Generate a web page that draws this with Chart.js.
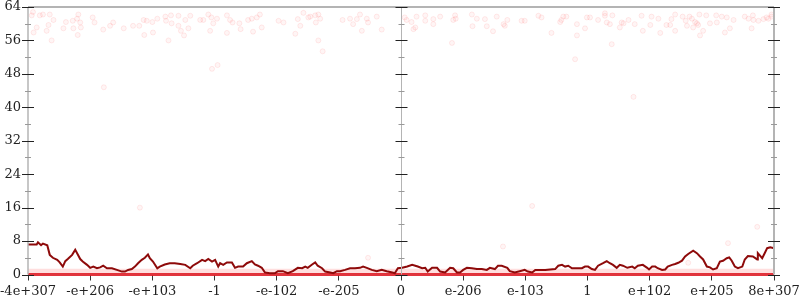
<!DOCTYPE html>
<html>
<head>
<meta charset="utf-8">
<script src="https://cdn.jsdelivr.net/npm/chart.js@4"></script>
<style>
  html, body { margin: 0; padding: 0; background: #fff; }
  #wrap { width: 800px; height: 300px; }
</style>
</head>
<body>
<div id="wrap"><canvas id="c" width="800" height="300"></canvas></div>
<script>
// ---- data ----
const xTickLabels = ['-4e+307','-e+206','-e+103','-1','-e-102','-e-205','0','e-206','e-103','1','e+102','e+205','8e+307'];
const yMin = 0, yMax = 64, yStep = 8, yMinorStep = 4;

// running line: position along axis (0..12 tick units) and value
const lineX = [0,0.14,0.16,0.21,0.24,0.31,0.35,0.40,0.47,0.51,0.56,0.60,0.64,0.71,0.76,0.79,0.84,0.88,0.95,1.00,
  1.05,1.11,1.16,1.21,1.27,1.35,1.43,1.51,1.56,1.61,1.67,1.72,1.77,1.83,1.88,1.93,1.96,2.01,2.08,2.12,
  2.20,2.28,2.36,2.45,2.53,2.61,2.65,2.72,2.80,2.85,2.90,2.96,3.01,3.06,3.09,3.14,3.20,3.28,3.33,3.38,
  3.46,3.52,3.60,3.65,3.70,3.76,3.81,3.89,3.97,4.02,4.10,4.18,4.26,4.34,4.41,4.46,4.50,4.57,4.62,4.66,
  4.73,4.78,4.86,4.91,4.97,5.02,5.10,5.18,5.26,5.34,5.39,5.45,5.53,5.61,5.69,5.77,5.86,5.90,5.95,6.02,
  6.10,6.18,6.23,6.27,6.34,6.39,6.43,6.50,6.58,6.63,6.71,6.79,6.84,6.90,6.95,7.00,7.06,7.14,7.22,7.30,
  7.38,7.43,7.51,7.56,7.62,7.71,7.75,7.83,7.91,7.99,8.04,8.11,8.16,8.32,8.48,8.53,8.59,8.64,8.69,8.75,
  8.91,8.96,9.01,9.07,9.12,9.17,9.25,9.31,9.36,9.41,9.47,9.52,9.57,9.64,9.72,9.76,9.81,9.89,9.96,9.99,
  10.04,10.09,10.13,10.20,10.25,10.29,10.36,10.41,10.46,10.52,10.57,10.62,10.70,10.76,10.81,10.86,10.92,10.97,11.02,11.08,
  11.13,11.18,11.24,11.28,11.32,11.37,11.42,11.49,11.53,11.58,11.66,11.73,11.74,11.81,11.85,11.89,11.94,12.00];
const lineY = [7.2,7.2,7.7,7.0,7.4,7.0,4.7,4.0,3.5,2.9,1.9,3.2,3.7,4.7,5.9,5.1,3.7,3.1,2.3,1.6,
  1.9,1.5,1.7,2.1,1.5,1.5,1.1,0.7,0.7,1.1,1.3,1.9,2.7,3.5,4.0,4.8,3.9,3.1,1.5,1.9,
  2.4,2.7,2.7,2.5,2.3,1.5,2.1,2.7,3.5,3.2,3.7,3.1,3.5,1.9,2.7,2.3,2.9,2.9,1.6,1.9,
  1.9,2.7,3.2,2.4,2.1,1.6,0.5,0.3,0.3,0.8,0.8,0.3,0.8,1.6,1.5,1.9,1.6,2.4,2.9,2.1,
  1.5,0.7,0.5,0.3,0.8,0.8,1.1,1.5,1.5,1.6,1.9,1.6,1.1,0.8,1.1,0.8,0.5,0.3,1.5,1.6,
  1.9,2.3,2.1,1.9,1.5,1.6,0.7,1.6,1.6,0.7,0.5,1.6,1.5,0.5,0.5,1.1,1.6,1.5,1.3,1.3,
  1.1,1.6,1.3,2.1,2.1,1.6,0.8,0.5,0.8,1.1,0.7,0.5,1.1,1.1,1.3,2.1,2.3,1.9,2.1,1.5,
  1.5,1.9,1.9,1.3,1.1,2.1,2.7,3.2,2.7,2.3,1.6,2.3,2.1,1.6,1.9,1.5,2.1,2.3,1.6,1.2,
  1.9,1.9,1.5,1.1,1.2,1.9,2.3,2.5,2.8,3.3,4.3,4.9,5.7,5.1,4.3,3.6,1.9,1.7,1.2,1.5,
  3.1,3.3,3.9,4.1,3.3,1.9,1.5,1.9,3.6,4.4,4.3,3.6,5.1,3.9,5.1,6.3,6.5,6.3];

// faint sample cloud
const cloudX = [0.06,0.08,0.19,0.24,0.35,0.09,0.14,0.30,0.33,0.38,0.41,0.57,0.61,0.72,0.73,0.79,0.81,0.84,0.85,0.80,
  1.04,1.07,1.21,1.22,1.32,1.37,1.54,1.69,1.79,1.86,1.87,1.91,2.00,2.01,2.08,2.21,2.22,2.26,2.30,2.31,
  2.42,2.42,2.46,2.51,2.53,2.58,2.61,2.77,2.82,2.90,2.93,2.95,2.98,2.96,3.05,3.04,3.20,3.20,3.25,3.29,
  3.40,3.42,3.54,3.60,3.62,3.68,3.73,3.76,4.03,4.11,4.30,4.34,4.38,4.43,4.51,4.54,4.62,4.63,4.67,4.67,
  4.70,4.74,5.06,5.18,5.23,5.29,5.34,5.37,5.45,5.47,5.61,5.69,
  6.06,6.09,6.17,6.23,6.20,6.25,6.39,6.39,6.52,6.52,6.63,6.82,6.84,6.87,6.88,7.14,7.15,7.22,7.35,7.38,
  7.48,7.54,7.65,7.67,7.71,7.94,7.99,8.21,8.26,8.42,8.56,8.58,8.61,8.66,8.80,8.83,8.83,8.96,8.99,9.04,
  9.17,9.28,9.31,9.36,9.28,9.39,9.40,9.52,9.55,9.58,9.66,9.74,9.76,9.87,9.89,10.01,10.03,10.14,10.17,10.27,
  10.33,10.35,10.41,10.41,10.53,10.58,10.60,10.64,10.68,10.70,10.73,10.76,10.78,10.80,10.81,10.86,10.91,10.97,11.07,11.08,
  11.16,11.21,11.24,11.29,11.35,11.53,11.59,11.64,11.66,11.67,11.75,11.83,11.88,11.91,11.96,11.96,
  1.80,8.11,7.64,11.73,11.26,5.47,10.62];
const cloudY = [62.0,62.8,62.0,62.2,62.2,57.9,59.1,58.3,59.7,56.0,60.9,58.9,60.4,60.7,58.9,61.2,62.2,60.3,59.1,57.3,
  61.5,60.3,58.6,44.8,59.5,60.3,58.9,59.5,59.5,60.9,57.3,60.7,60.4,57.9,61.2,61.7,60.7,56.0,62.0,60.1,
  61.9,59.5,58.3,57.2,60.9,58.9,61.9,60.9,60.9,62.2,58.3,61.5,60.1,49.2,50.1,61.2,62.0,57.8,60.9,60.3,
  60.1,58.7,60.9,61.2,58.1,61.5,62.2,59.1,60.7,60.3,57.6,61.1,59.5,62.6,61.5,61.7,62.0,60.3,62.2,56.0,
  61.2,53.4,60.9,61.2,59.9,61.1,62.2,58.3,61.2,60.3,61.7,58.6,
  61.5,60.9,60.4,59.1,58.7,61.7,62.0,60.7,61.1,59.9,61.7,55.4,60.9,62.0,61.2,62.2,59.4,61.2,61.1,59.4,
  58.2,61.7,59.9,59.5,60.9,60.7,60.7,61.9,61.5,57.8,60.4,60.9,61.7,61.7,51.5,59.9,57.2,58.9,61.5,61.5,
  60.9,62.5,60.3,59.9,61.9,55.1,62.0,59.1,60.3,60.1,60.9,42.5,59.9,61.9,58.3,59.7,61.7,61.2,57.8,59.7,
  59.7,61.1,58.3,62.2,61.7,60.7,59.5,61.7,61.2,59.1,60.4,60.1,59.7,62.2,57.2,58.3,62.0,60.1,62.0,60.3,
  61.7,57.9,61.5,58.9,60.9,61.7,61.2,58.9,62.0,60.9,60.7,61.1,61.5,61.2,62.2,61.7,
  16.0,16.4,6.7,11.4,7.5,4.0,2.8];

// dense mass of samples sitting at / just above zero
const zeroBandTop = 1.4;
const zeroValue = 0;
const axisStart = 0, axisEnd = 12, axisMiddle = 6;

// ---- chart ----
const linePts = lineX.map((x, i) => ({ x, y: lineY[i] }));
const cloudPts = cloudX.map((x, i) => ({ x, y: cloudY[i] }));

const axesPlugin = {
  id: 'axesPlugin',
  afterDatasetsDraw(chart) {
    const { ctx, chartArea: a, scales } = chart;
    const xs = scales.x, ys = scales.y;
    ctx.save();
    ctx.strokeStyle = '#b4b4b4';
    ctx.lineWidth = 2;
    ctx.beginPath(); ctx.moveTo(a.left, a.top); ctx.lineTo(a.right, a.top); ctx.stroke();
    ctx.beginPath(); ctx.moveTo(a.right, a.top); ctx.lineTo(a.right, a.bottom); ctx.stroke();
    ctx.lineWidth = 1.5;
    ctx.beginPath(); ctx.moveTo(a.left, a.top); ctx.lineTo(a.left, a.bottom); ctx.stroke();
    const mx = Math.round(xs.getPixelForValue(axisMiddle)) + 0.5;
    ctx.lineWidth = 1;
    ctx.beginPath(); ctx.moveTo(mx, a.top); ctx.lineTo(mx, a.bottom); ctx.stroke();
    const axesX = [a.left, mx, a.right];
    for (let v = yMin; v <= yMax; v += yMinorStep) {
      const y = Math.round(ys.getPixelForValue(v)) + 0.5;
      const major = v % yStep === 0;
      ctx.strokeStyle = major ? '#222' : '#999';
      ctx.lineWidth = 1;
      const h = major ? 6 : 3;
      for (const ax of axesX) {
        ctx.beginPath(); ctx.moveTo(ax - h, y); ctx.lineTo(ax + h, y); ctx.stroke();
      }
    }
    ctx.restore();
  }
};

new Chart(document.getElementById('c'), {
  type: 'scatter',
  data: {
    datasets: [
      {
        type: 'line', label: 'running', data: linePts,
        borderColor: '#8e0a0a', borderWidth: 2, pointRadius: 0, tension: 0, fill: false, clip: false
      },
      {
        type: 'line', label: 'zero', data: [{ x: axisStart, y: zeroValue }, { x: axisEnd, y: zeroValue }],
        borderColor: 'rgba(222,30,40,0.9)', borderWidth: 3, pointRadius: 0, fill: false, clip: false
      },
      {
        type: 'line', label: 'band', data: [{ x: axisStart, y: zeroBandTop }, { x: axisEnd, y: zeroBandTop }],
        borderWidth: 0, borderColor: 'rgba(0,0,0,0)', backgroundColor: 'rgba(255,70,70,0.18)',
        pointRadius: 0, fill: 'origin'
      },
      {
        label: 'samples', data: cloudPts,
        pointRadius: 2.5, pointBackgroundColor: 'rgba(255,0,0,0.04)', pointBorderColor: 'rgba(255,60,60,0.10)',
        pointBorderWidth: 1, clip: false
      }
    ]
  },
  options: {
    responsive: false,
    animation: false,
    events: [],
    layout: { padding: { left: 0, right: 26, top: 7, bottom: 0 } },
    plugins: { legend: { display: false }, tooltip: { enabled: false } },
    scales: {
      x: {
        type: 'linear', min: axisStart, max: axisEnd,
        afterFit(s) { s.height = 25.5; s.paddingLeft = 0; s.paddingRight = 0; },
        ticks: {
          stepSize: 1, autoSkip: false, maxRotation: 0, padding: 3,
          color: '#222', font: { family: 'DejaVu Serif', size: 13 },
          callback: (v) => xTickLabels[v]
        },
        grid: { display: true, drawOnChartArea: false, drawTicks: true, tickLength: 6, color: '#333' },
        border: { display: false }
      },
      y: {
        type: 'linear', min: yMin, max: yMax,
        afterFit(s) { s.width = 28; s.paddingTop = 0; s.paddingBottom = 0; },
        ticks: { stepSize: yStep, padding: 7, color: '#222', font: { family: 'DejaVu Serif', size: 13 } },
        grid: { display: false, drawTicks: false },
        border: { display: false }
      }
    }
  },
  plugins: [axesPlugin]
});
</script>
</body>
</html>
